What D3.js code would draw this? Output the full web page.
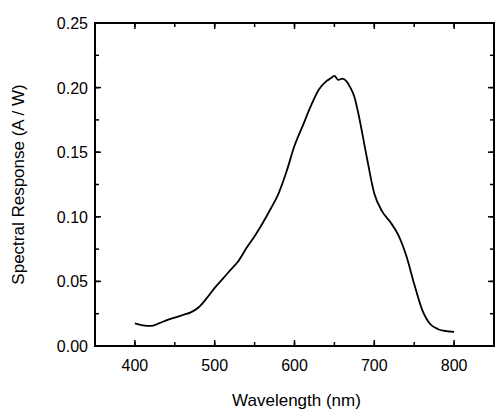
<!DOCTYPE html>
<html><head><meta charset="utf-8">
<script src="https://cdn.jsdelivr.net/npm/d3@7"></script>
<style>body{margin:0;background:#fff}</style>
</head><body><div id="plot"></div>
<script>
// wavelength (nm) and spectral response (A/W)
const wavelength = [400, 410, 420, 430, 440, 450, 460, 470, 480, 490, 500, 510, 520, 530, 540, 550, 560, 570, 580, 590, 600, 610, 620, 630, 640, 645, 650, 655, 660, 665, 670, 675, 680, 690, 700, 710, 720, 730, 740, 750, 760, 770, 780, 790, 800];
const response = [0.0175, 0.016, 0.0155, 0.0175, 0.02, 0.022, 0.024, 0.026, 0.03, 0.037, 0.045, 0.052, 0.059, 0.066, 0.076, 0.085, 0.095, 0.106, 0.118, 0.135, 0.155, 0.17, 0.185, 0.198, 0.205, 0.207, 0.209, 0.206, 0.207, 0.205, 0.2, 0.193, 0.18, 0.148, 0.118, 0.104, 0.096, 0.086, 0.07, 0.048, 0.028, 0.017, 0.013, 0.0115, 0.011];
const xTicks = [400, 500, 600, 700, 800];
const yTicks = [0, 0.05, 0.10, 0.15, 0.20, 0.25];

const width = 500, height = 418;
const m = {left: 95, right: 6, top: 23, bottom: 72};
const svg = d3.select("#plot").append("svg").attr("width", width).attr("height", height)
    .style("font-family", "Arial, 'Liberation Sans', sans-serif");

const x = d3.scaleLinear().domain([350, 850]).range([m.left, width - m.right]);
const y = d3.scaleLinear().domain([0, 0.25]).range([height - m.bottom, m.top]);

// frame
svg.append("rect").attr("x", m.left).attr("y", m.top)
    .attr("width", width - m.left - m.right).attr("height", height - m.top - m.bottom)
    .attr("fill", "none").attr("stroke", "#000").attr("stroke-width", 2);

const minorX = d3.range(350, 851, 50), minorY = d3.range(0, 0.251, 0.025);
function ticks(g, scale, vals, len, orient) {
  g.selectAll("line").data(vals).enter().append("line").attr("stroke", "#000").attr("stroke-width", 1.5)
    .each(function (d) {
      const s = d3.select(this);
      if (orient === "b") s.attr("x1", scale(d)).attr("x2", scale(d)).attr("y1", y(0)).attr("y2", y(0) - len);
      if (orient === "t") s.attr("x1", scale(d)).attr("x2", scale(d)).attr("y1", y(0.25)).attr("y2", y(0.25) + len);
      if (orient === "l") s.attr("y1", scale(d)).attr("y2", scale(d)).attr("x1", x(350)).attr("x2", x(350) + len);
      if (orient === "r") s.attr("y1", scale(d)).attr("y2", scale(d)).attr("x1", x(850)).attr("x2", x(850) - len);
    });
}
["b", "t"].forEach(o => { ticks(svg.append("g"), x, minorX, 4, o); ticks(svg.append("g"), x, xTicks, 6, o); });
["l", "r"].forEach(o => { ticks(svg.append("g"), y, minorY, 4, o); ticks(svg.append("g"), y, yTicks, 6, o); });

// tick labels
svg.append("g").selectAll("text").data(xTicks).enter().append("text")
    .attr("x", d => x(d)).attr("y", y(0) + 25).attr("text-anchor", "middle")
    .attr("font-size", 16).text(d => d);
svg.append("g").selectAll("text").data(yTicks).enter().append("text")
    .attr("x", m.left - 7).attr("y", d => y(d) + 6).attr("text-anchor", "end")
    .attr("font-size", 16).text(d => d3.format(".2f")(d));

svg.append("text").attr("x", (m.left + width - m.right) / 2 + 2).attr("y", 406)
    .attr("text-anchor", "middle").attr("font-size", 17).text("Wavelength (nm)");
svg.append("text").attr("transform", `translate(24,${(m.top + height - m.bottom) / 2}) rotate(-90)`)
    .attr("text-anchor", "middle").attr("font-size", 17).text("Spectral Response (A / W)");

const line = d3.line().x((d, i) => x(wavelength[i])).y(d => y(d)).curve(d3.curveMonotoneX);
svg.append("path").datum(response).attr("d", line)
    .attr("fill", "none").attr("stroke", "#000").attr("stroke-width", 1.8);
</script></body></html>
